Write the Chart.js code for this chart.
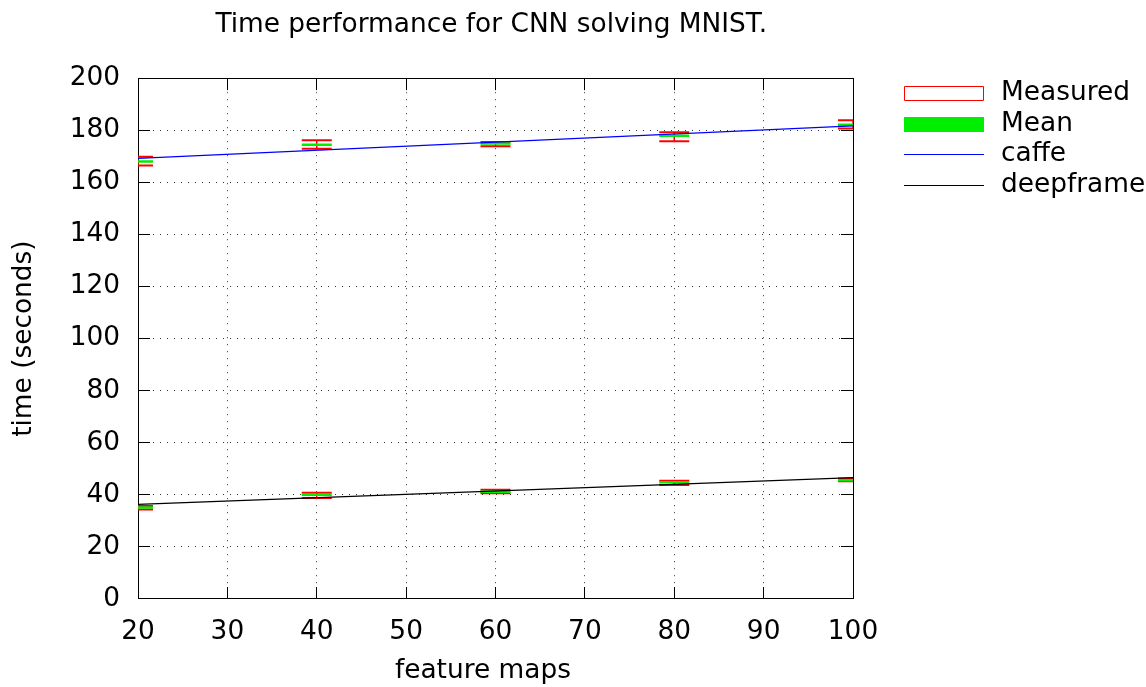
<!DOCTYPE html>
<html>
<head>
<meta charset="utf-8">
<title>Time performance for CNN solving MNIST.</title>
<script src="https://cdn.jsdelivr.net/npm/chart.js@4/dist/chart.umd.min.js"></script>
<style>
  html, body { margin: 0; padding: 0; background: #fff; }
  #wrap { width: 1146px; height: 687px; }
</style>
</head>
<body>
<div id="wrap"><canvas id="grafico"></canvas></div>
<script>
// feature maps on the x axis
const featureMaps = [20, 40, 60, 80, 100];

// caffe runs (seconds): lowest, highest and mean of the measurements
const caffeMin  = [166.5, 172.9, 173.9, 175.8, 180.7];
const caffeMax  = [169.8, 176.2, 175.5, 179.2, 183.8];
const caffeMean = [168.0, 174.4, 174.9, 177.9, 182.1];

// deepframe runs (seconds)
const deepMin  = [34.4, 38.8, 40.6, 43.8, 45.2];
const deepMax  = [35.7, 40.8, 42.0, 45.4, 46.3];
const deepMean = [35.1, 40.0, 41.2, 44.8, 45.6];

// fitted lines, value at the first and last feature map count
const fitX = [20, 100];
const caffeFit = [169.2, 181.7];
const deepFit = [36.3, 46.6];

const xTicks = [20, 30, 40, 50, 60, 70, 80, 90, 100];
const yTicks = [0, 20, 40, 60, 80, 100, 120, 140, 160, 180, 200];

const legendLabels = ['Measured', 'Mean', 'caffe', 'deepframe'];

const RED = '#ff0000';
const GREEN = '#00ee00';
const BLUE = '#0000ff';
const FONT_SIZE = 26.4;

function pts(xs, ys) {
  return xs.map((x, i) => ({ x: x, y: ys[i] }));
}

// vertical red stems from min to max, broken with nulls between groups
function stems(mins, maxs) {
  const out = [];
  featureMaps.forEach((x, i) => {
    out.push({ x: x, y: mins[i] });
    out.push({ x: x, y: maxs[i] });
    out.push({ x: x, y: null });
  });
  return out;
}

function bars(data, color, width) {
  return {
    data: data,
    showLine: false,
    pointStyle: 'line',
    pointRadius: 15,
    pointHoverRadius: 15,
    pointBorderColor: color,
    pointBackgroundColor: color,
    pointBorderWidth: width
  };
}

function fitLine(label, ys, color) {
  return {
    label: label,
    data: pts(fitX, ys),
    showLine: true,
    borderColor: color,
    borderWidth: 1.3,
    pointRadius: 0,
    fill: false
  };
}

const datasets = [
  fitLine('caffe', caffeFit, BLUE),
  fitLine('deepframe', deepFit, '#000'),
  Object.assign({ label: 'Mean' }, bars(pts(featureMaps, caffeMean), GREEN, 2.5)),
  Object.assign({ label: 'Mean' }, bars(pts(featureMaps, deepMean), GREEN, 2.5)),
  Object.assign({ label: 'Measured' }, bars(pts(featureMaps, caffeMin), RED, 2)),
  Object.assign({ label: 'Measured' }, bars(pts(featureMaps, caffeMax), RED, 2)),
  Object.assign({ label: 'Measured' }, bars(pts(featureMaps, deepMin), RED, 2)),
  Object.assign({ label: 'Measured' }, bars(pts(featureMaps, deepMax), RED, 2)),
  { label: 'Measured', data: stems(caffeMin, caffeMax), showLine: true, borderColor: RED, borderWidth: 1.5, pointRadius: 0 },
  { label: 'Measured', data: stems(deepMin, deepMax), showLine: true, borderColor: RED, borderWidth: 1.5, pointRadius: 0 }
];

// legend to the right of the plot, drawn by hand
const sideLegend = {
  id: 'sideLegend',
  afterDraw(chart) {
    const { ctx, chartArea } = chart;
    const x0 = Math.round(chartArea.right) + 51;
    const top = Math.round(chartArea.top) + 15;
    const w = 80;
    ctx.save();
    ctx.setLineDash([]);
    ctx.globalAlpha = 1;
    ctx.font = FONT_SIZE + 'px "DejaVu Sans"';
    ctx.textBaseline = 'middle';
    ctx.textAlign = 'left';
    legendLabels.forEach((label, i) => {
      const y = Math.round(top + i * 30.5);
      if (label === 'Measured') {
        ctx.strokeStyle = RED;
        ctx.lineWidth = 1;
        ctx.beginPath();
        ctx.rect(x0 + 0.5, y - 7 + 0.5, w - 1, 14);
        ctx.stroke();
      } else if (label === 'Mean') {
        ctx.fillStyle = GREEN;
        ctx.fillRect(x0, y - 7, w, 15);
      } else {
        ctx.strokeStyle = label === 'caffe' ? BLUE : '#000000';
        ctx.lineWidth = 1;
        ctx.beginPath();
        ctx.moveTo(x0, y + 0.5);
        ctx.lineTo(x0 + w, y + 0.5);
        ctx.stroke();
      }
      ctx.fillStyle = '#000000';
      ctx.fillText(label, x0 + 97, y);
    });
    ctx.restore();
  }
};

Chart.defaults.font.family = '"DejaVu Sans"';
Chart.defaults.font.size = FONT_SIZE;
Chart.defaults.color = '#000';

const gridStyle = { color: '#333', lineWidth: 1, tickLength: -12, tickColor: '#000', tickWidth: 1 };
const borderStyle = { color: '#000', width: 1, dash: [1, 6] };

const ctx = document.getElementById('grafico').getContext('2d');
const chart = new Chart(ctx, {
  type: 'scatter',
  data: { datasets: datasets },
  plugins: [sideLegend],
  options: {
    animation: false,
    responsive: true,
    maintainAspectRatio: false,
    layout: { padding: { left: 0, right: 293, top: 0, bottom: 0 } },
    scales: {
      x: {
        type: 'linear',
        position: 'bottom',
        min: 20,
        max: 100,
        afterBuildTicks: s => { s.ticks = xTicks.map(v => ({ value: v })); },
        afterFit: s => { s.height = 88; },
        ticks: { padding: 29, maxRotation: 0 },
        grid: gridStyle,
        border: borderStyle,
        // trailing spaces nudge the centred title a little to the left
        title: { display: true, text: 'feature maps   ', padding: { top: 0, bottom: 0 } }
      },
      y: {
        type: 'linear',
        position: 'left',
        min: 0,
        max: 200,
        afterBuildTicks: s => { s.ticks = yTicks.map(v => ({ value: v })); },
        afterFit: s => { s.width = 138; },
        ticks: { padding: 30 },
        grid: gridStyle,
        border: borderStyle,
        title: { display: true, text: 'time (seconds)', padding: { top: 8, bottom: 0 } }
      },
      // mirrored tick marks on the top and right borders
      x2: {
        type: 'linear',
        axis: 'x',
        position: 'top',
        min: 20,
        max: 100,
        afterBuildTicks: s => { s.ticks = xTicks.map(v => ({ value: v })); },
        afterFit: s => { s.height = 0; },
        ticks: { display: false },
        grid: Object.assign({}, gridStyle, { drawOnChartArea: false }),
        border: { color: '#000', width: 1 }
      },
      y2: {
        type: 'linear',
        axis: 'y',
        position: 'right',
        min: 0,
        max: 200,
        afterBuildTicks: s => { s.ticks = yTicks.map(v => ({ value: v })); },
        afterFit: s => { s.width = 0; },
        ticks: { display: false },
        grid: Object.assign({}, gridStyle, { drawOnChartArea: false }),
        border: { color: '#000', width: 1 }
      }
    },
    plugins: {
      legend: { display: false },
      tooltip: { enabled: false },
      title: {
        display: true,
        text: 'Time performance for CNN solving MNIST. ',
        fullSize: false,
        font: { size: FONT_SIZE, weight: 'normal' },
        color: '#000',
        padding: { top: 9, bottom: 37.5 }
      }
    }
  }
});
</script>
</body>
</html>
